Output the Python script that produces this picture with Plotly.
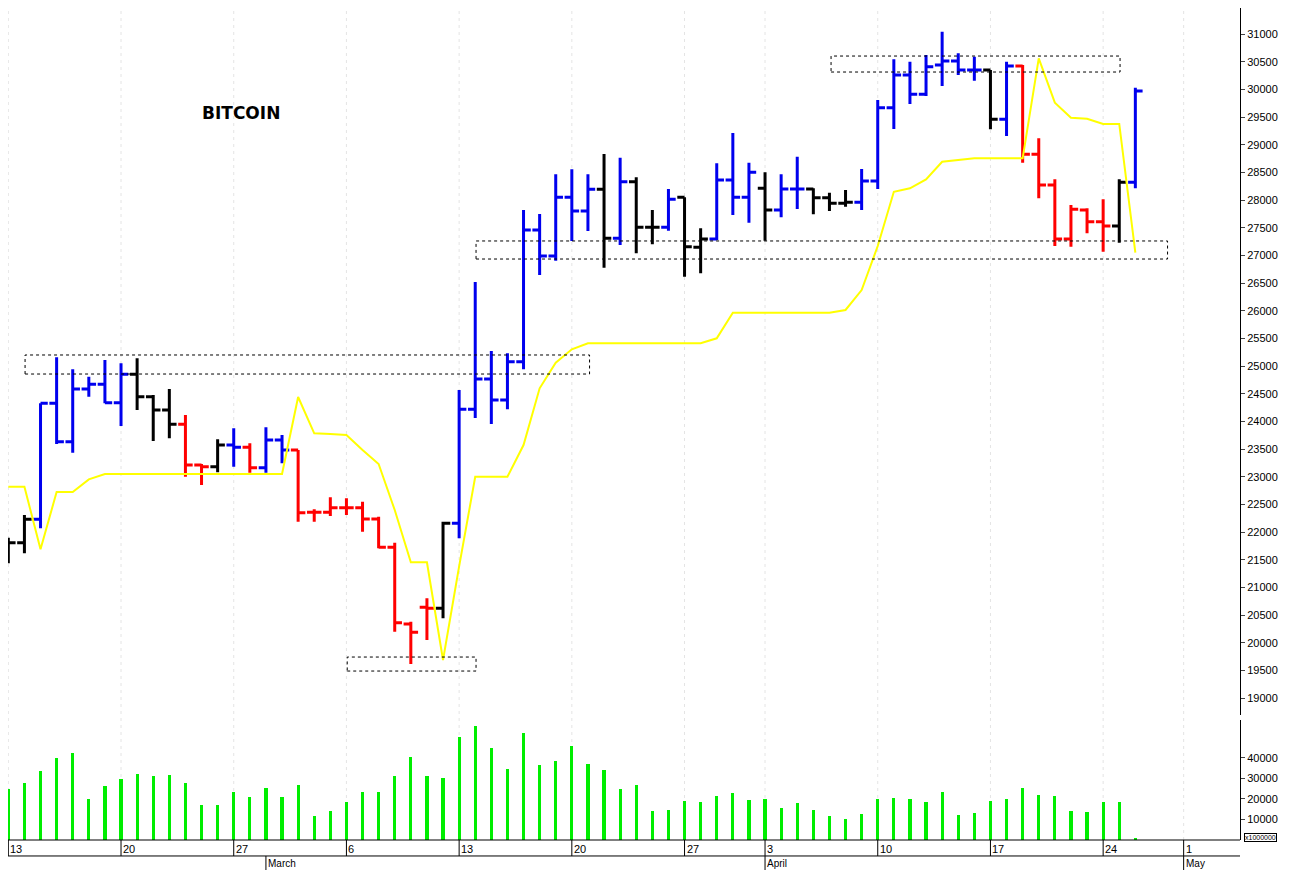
import plotly.graph_objects as go

opens = [21808,21808,22230,24327,23633,24585,24670,24338,24851,24446,24206,23947,23212,23181,23573,23532,23163,23664,23483,22357,22357,22440,22440,22236,21725,20340,20640,20622,22158,24218,24766,24386,25079,27458,26988,28049,27802,28194,27308,28331,27507,27507,28049,27145,27296,28362,28049,28212,27820,28199,28199,28042,27941,27959,28344,29668,30259,29910,30440,30512,30350,30350,29459,30422,28826,28271,27296,27820,27608,27531,28320]
highs = [21898,22308,24327,25158,24941,24807,25109,25050,25140,24477,24585,24115,23230,23676,23875,23604,23893,23754,23483,22411,22628,22610,22549,22278,21808,20380,20803,22187,24567,26519,25272,25230,27820,27747,28465,28555,28465,28832,28765,28411,27820,28199,28049,27489,28664,29211,28674,28501,28465,28783,28212,28132,28181,28561,29807,30543,30500,30621,31042,30651,30590,30350,30500,30440,29115,28374,27910,27850,28013,28374,30030]
lows = [21435,21616,22068,23591,23434,24446,24327,23917,24206,23646,23694,23000,22850,23080,23181,23074,23074,23243,22187,22187,22290,22310,22007,21707,20200,19616,20050,20442,21887,24061,23953,24218,24941,26645,26904,27260,27440,26777,27187,27037,27200,27446,26614,26676,27278,27729,27590,27265,27688,27838,27742,27802,27879,27820,28199,29283,29735,29880,30060,30259,30156,29278,29157,28674,28031,27169,27157,27399,27066,27229,28212]
closes = [21808,22230,24327,23633,24585,24670,24338,24851,24446,24206,23947,23212,23181,23573,23532,23163,23664,23483,22350,22357,22440,22440,22236,21725,20362,20189,20622,22158,24218,24766,24386,25079,27458,26988,28049,27802,28194,27308,28331,27507,27507,28013,27157,27296,28362,28049,28501,27820,28199,28199,28042,27941,27959,28344,29668,30259,29910,30409,30512,30350,30350,29459,30422,28826,28271,27296,27832,27608,27531,28320,29970]
bar_colors = list("KKBBBBBBKKKRRKBRBBRRRRRRRRRKBBBBBBBBBKBKKBKKBBBKBBKKKBBBBBBBBKBRRRRRRKB")
signal = [22820,22820,21689,22724,22724,22953,23049,23049,23049,23049,23049,23049,23049,23049,23049,23049,23049,23049,24441,23785,23770,23754,23483,23230,22399,21454,21454,19688,21380,23000,23000,23000,23573,24598,25060,25303,25411,25411,25411,25411,25411,25411,25411,25411,25501,25964,25964,25964,25964,25964,25964,25964,26013,26374,27169,28150,28212,28374,28692,28723,28754,28754,28754,28754,30561,29759,29488,29470,29374,29374,27048]
volume = [24900,27700,33400,40000,42500,19900,26400,29700,32100,31000,31800,27700,17000,17000,23600,20800,25200,21100,26900,11500,14200,18300,23600,23600,31000,40500,31000,30100,50400,55700,45000,34800,52000,36700,38700,45800,37200,34300,24700,26700,14200,14500,18800,18500,21400,23100,19400,19900,15800,17800,14500,11500,10000,12500,19900,20600,19900,18300,23600,12400,13200,18900,19900,25200,21900,21400,14000,13700,18500,18500,500]
week_idx = [0,7,14,21,28,35,42,47,54,61,68,73]
week_lbl = ["13","20","27","6","13","20","27","3","10","17","24","1"]
month_idx = [16,47,73]
month_lbl = ["March","April","May"]
zones = [(1.04,36.1,24856,25200),(21.05,29.05,19489,19742),(29.05,72.0,26934,27260),(51.1,69.05,30313,30602)]
price_ticks = list(range(19000,31001,500))
vol_ticks = [10000,20000,30000,40000]

cmap = {"B":"#0000ee","R":"#ff0000","K":"#000000"}
idx = list(range(len(opens)))
fig = go.Figure()
for k,c in cmap.items():
    sel = [i for i in idx if bar_colors[i]==k]
    fig.add_trace(go.Ohlc(x=sel,open=[opens[i] for i in sel],high=[highs[i] for i in sel],
        low=[lows[i] for i in sel],close=[closes[i] for i in sel],tickwidth=0.45,
        increasing=dict(line=dict(color=c,width=3)),decreasing=dict(line=dict(color=c,width=3)),
        showlegend=False,hoverinfo="skip",xaxis="x",yaxis="y"))
fig.add_trace(go.Scatter(x=idx,y=signal,mode="lines",line=dict(color="#ffff00",width=2),showlegend=False,yaxis="y"))
fig.add_trace(go.Bar(x=idx,y=volume,width=0.2,marker=dict(color="#00ee00",line=dict(width=0)),showlegend=False,yaxis="y2"))

shapes=[]
for w in week_idx:
    shapes.append(dict(type="line",xref="x",yref="paper",x0=w,x1=w,y0=0,y1=1,line=dict(color="#e4e4e4",width=1,dash="3px,4px"),layer="below"))
    shapes.append(dict(type="line",xref="x",yref="paper",x0=w,x1=w,y0=0,y1=-0.0192,line=dict(color="#000",width=1)))
for m in month_idx:
    shapes.append(dict(type="line",xref="x",yref="paper",x0=m,x1=m,y0=-0.0192,y1=-0.04,line=dict(color="#000",width=1)))
shapes.append(dict(type="line",xref="paper",yref="paper",x0=0,x1=1,y0=-0.0192,y1=-0.0192,line=dict(color="#000",width=1)))
shapes.append(dict(type="line",xref="paper",yref="paper",x0=0,x1=1,y0=0,y1=0,line=dict(color="#000",width=1)))
for x0,x1,y0,y1 in zones:
    shapes.append(dict(type="rect",xref="x",yref="y",x0=x0,x1=x1,y0=y0,y1=y1,line=dict(color="#000",width=1,dash="dot")))

ann=[dict(text="<b>BITCOIN</b>",x=0.156,y=31000-(113-34)*18.07,xref="paper",yref="y",showarrow=False,xanchor="left",font=dict(size=17,color="#000",family="DejaVu Sans"))]
for w,l in zip(week_idx,week_lbl):
    ann.append(dict(text=l,x=w,y=-0.001,xref="x",yref="paper",xanchor="left",yanchor="top",showarrow=False,font=dict(size=11,color="#000")))
for m,l in zip(month_idx,month_lbl):
    ann.append(dict(text=l,x=m,y=-0.0195,xref="x",yref="paper",xanchor="left",yanchor="top",showarrow=False,font=dict(size=10,color="#000")))
ann.append(dict(text="x1000000",x=1.003,y=-0.003,xref="paper",yref="paper",xanchor="left",yanchor="bottom",showarrow=False,font=dict(size=7,color="#000"),bordercolor="#000",borderwidth=1,borderpad=0))

fig.update_layout(width=1282,height=862,margin=dict(l=0,r=50,t=0,b=30,autoexpand=False),plot_bgcolor="#fff",paper_bgcolor="#fff",
    font=dict(family="Liberation Sans",size=11,color="#000"),shapes=shapes,annotations=ann,bargap=0,
    xaxis=dict(range=[-0.02,76.5],showticklabels=False,showgrid=False,zeroline=False,rangeslider=dict(visible=False),anchor="y2",ticks="",automargin=False),
    yaxis=dict(domain=[0.1502,1],range=[18694,31470],side="right",tickvals=price_ticks,tickformat="d",showgrid=False,zeroline=False,ticks="outside",ticklen=4,showline=True,linecolor="#000",tickfont=dict(size=11),automargin=False),
    yaxis2=dict(domain=[0,0.1442],range=[0,58500],side="right",tickvals=vol_ticks,tickformat="d",showgrid=False,zeroline=False,ticks="outside",ticklen=4,showline=True,linecolor="#000",tickfont=dict(size=11),automargin=False))
fig.write_html("out.html")
